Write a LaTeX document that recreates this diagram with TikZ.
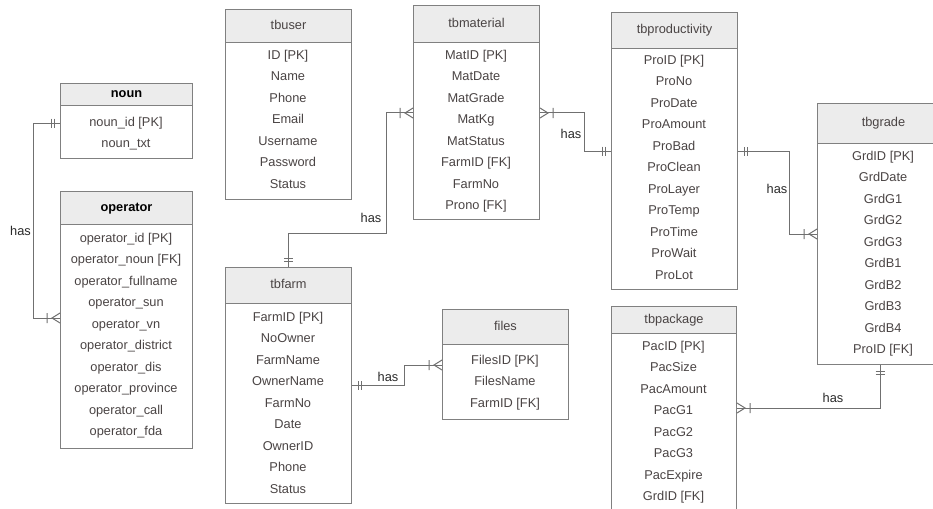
\documentclass[tikz,border=0pt]{standalone}
\usepackage{fontspec}
\setmainfont{Liberation Sans}
\definecolor{linegray}{HTML}{707070}
\definecolor{boxgray}{HTML}{808080}
\definecolor{headfill}{HTML}{ECECEC}
\definecolor{rowtext}{HTML}{4A4444}
\definecolor{lbltext}{HTML}{2A2A2A}
\tikzset{
  conn/.style={draw=linegray, line width=1pt},
  tblbody/.style={draw=boxgray, fill=white, line width=1pt, inner sep=0pt, rectangle},
  tblhead/.style={draw=boxgray, fill=headfill, line width=1pt, inner sep=0pt, rectangle},
  tbltitle/.style={font=\fontsize{12.8}{15}\selectfont, text=rowtext, inner sep=0pt, text height=9.2pt, text depth=2.6pt},
  tblrow/.style={font=\fontsize{12.8}{15}\selectfont, text=rowtext, inner sep=0pt, text height=9.2pt, text depth=2.6pt},
  haslbl/.style={font=\fontsize{12.8}{15}\selectfont, text=lbltext, inner sep=0pt, text height=9.2pt, text depth=2.6pt},
  erone/.pic={\draw[conn] (-6,-4.5) -- (-6,4.5) (-9,-4.5) -- (-9,4.5);},
  ermany/.pic={\draw[conn] (0,-5) -- (-8,0) -- (0,5) (-13,-5) -- (-13,5);},
}
% #1 name, #2 left, #3 top, #4 width, #5 header height, #6 height, #7 title, #8 first row y, #9 rows
\newcommand\ertbl[9]{%
  \node[tblbody, anchor=north west, minimum width=#4pt, minimum height=#6pt] (#1) at (#2,#3) {};
  \node[tblhead, anchor=north west, minimum width=#4pt, minimum height=#5pt] (#1-h) at (#2,#3) {};
  \node[tbltitle] (#1-t) at (#1-h.center) {#7};
  \foreach \r [count=\i] in {#9} {
    \node[tblrow] (#1-r\i) at ({#2+#4/2},{#8+(\i-1)*21.5}) {\r};
  }%
}
\begin{document}
\begin{tikzpicture}[x=1pt,y=-1pt]
\useasboundingbox (0,0) rectangle (933,508);
\fill[white] (0,0) rectangle (933,508);
\clip (0,0) rectangle (933,508);

\ertbl{noun}{60}{83}{132}{22}{75}{\color{black}\bfseries noun}{123}{noun\_id [PK],noun\_txt}
\ertbl{operator}{60}{191}{132}{33}{257}{\color{black}\bfseries operator}{239}{operator\_id [PK],operator\_noun [FK],operator\_fullname,operator\_sun,operator\_vn,operator\_district,operator\_dis,operator\_province,operator\_call,operator\_fda}
\ertbl{tbuser}{225}{9}{126}{33}{190}{tbuser}{56}{ID [PK],Name,Phone,Email,Username,Password,Status}
\ertbl{tbmaterial}{413}{5}{126}{37}{214}{tbmaterial}{56}{MatID [PK],MatDate,MatGrade,MatKg,MatStatus,FarmID [FK],FarmNo,Prono [FK]}
\ertbl{tbproductivity}{611}{12}{126}{36}{277}{tbproductivity}{61}{ProID [PK],ProNo,ProDate,ProAmount,ProBad,ProClean,ProLayer,ProTemp,ProTime,ProWait,ProLot}
\ertbl{tbgrade}{817}{103}{132}{40}{261}{tbgrade}{157}{GrdID [PK],GrdDate,GrdG1,GrdG2,GrdG3,GrdB1,GrdB2,GrdB3,GrdB4,ProID [FK]}
\ertbl{tbfarm}{225}{267}{126}{36}{236}{tbfarm}{318}{FarmID [PK],NoOwner,FarmName,OwnerName,FarmNo,Date,OwnerID,Phone,Status}
\ertbl{files}{442}{309}{126}{35}{110}{files}{361}{FilesID [PK],FilesName,FarmID [FK]}
\ertbl{tbpackage}{611}{306}{125}{27}{212}{tbpackage}{347}{PacID [PK],PacSize,PacAmount,PacG1,PacG2,PacG3,PacExpire,GrdID [FK]}

% noun -- operator
\coordinate (a1) at (33,123);
\coordinate (a2) at (33,318);
\draw[conn] (noun.west |- a1) -- (a1) -- (a2) -- (operator.west |- a2);
\pic at (noun.west |- a1) {erone};
\pic at (operator.west |- a2) {ermany};
\node[haslbl, anchor=east] (l1) at (31,232) {has};

% tbmaterial -- tbfarm
\coordinate (m1) at (386,113);
\coordinate (m2) at (386,233);
\coordinate (m3) at (288,233);
\draw[conn] (tbmaterial.west |- m1) -- (m1) -- (m2) -- (m3) -- (tbfarm.north -| m3);
\pic at (tbmaterial.west |- m1) {ermany};
\pic[rotate=-90] at (tbfarm.north -| m3) {erone};
\node[haslbl] (l2) at (371,219) {has};

% tbmaterial -- tbproductivity
\coordinate (p1) at (584,113);
\coordinate (p2) at (584,151);
\draw[conn] (tbmaterial.east |- p1) -- (p1) -- (p2) -- (tbproductivity.west |- p2);
\pic[rotate=180] at (tbmaterial.east |- p1) {ermany};
\pic at (tbproductivity.west |- p2) {erone};
\node[haslbl] (l3) at (571,135) {has};

% tbproductivity -- tbgrade
\coordinate (g1) at (789,151);
\coordinate (g2) at (789,234);
\draw[conn] (tbproductivity.east |- g1) -- (g1) -- (g2) -- (tbgrade.west |- g2);
\pic[rotate=180] at (tbproductivity.east |- g1) {erone};
\pic at (tbgrade.west |- g2) {ermany};
\node[haslbl] (l4) at (777,190) {has};

% tbfarm -- files
\coordinate (f1) at (404,385);
\coordinate (f2) at (404,365);
\draw[conn] (tbfarm.east |- f1) -- (f1) -- (f2) -- (files.west |- f2);
\pic[rotate=180] at (tbfarm.east |- f1) {erone};
\pic at (files.west |- f2) {ermany};
\node[haslbl] (l5) at (388,378) {has};

% tbgrade -- tbpackage
\coordinate (k1) at (880,408);
\draw[conn] (tbgrade.south -| k1) -- (k1) -- (tbpackage.east |- k1);
\pic[rotate=90] at (tbgrade.south -| k1) {erone};
\pic[rotate=180] at (tbpackage.east |- k1) {ermany};
\node[haslbl] (l6) at (833,399) {has};
\end{tikzpicture}
\end{document}
